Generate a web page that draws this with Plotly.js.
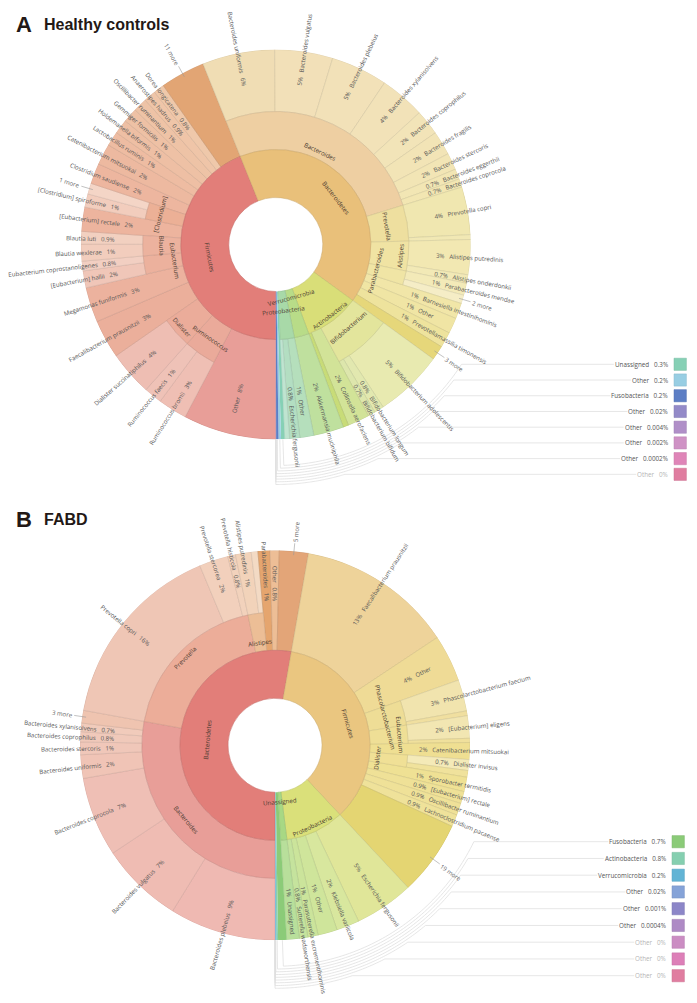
<!DOCTYPE html>
<html><head><meta charset="utf-8">
<script src="https://cdn.plot.ly/plotly-3.0.1.min.js"></script>
<style>html,body{margin:0;padding:0;background:#fff}#chart{width:697px;height:1003px}</style>
</head><body><div id="chart"></div>
<script>
// ---------- Panel A: Healthy controls ----------
const aLeafNames = ['Other','Ruminococcus bromii','Ruminococcus faecis','Dialister succinatiphilus','Faecalibacterium prausnitzii','Megamonas funiformis','[Eubacterium] hallii','Eubacterium coprostanoligenes','Blautia wexlerae','Blautia luti','[Eubacterium] rectale','[Clostridium] spiroforme','1 more','Clostridium saudiense','Catenibacterium mitsuokai','Lactobacillus ruminis','Holdemanella biformis','Gemmiger formicilis','Oscillibacter ruminantium','Anaerostipes hadrus','Dorea longicatena','11 more',
 'Bacteroides uniformis','Bacteroides vulgatus','Bacteroides plebeius','Bacteroides xylanisolvens','Bacteroides coprophilus','Bacteroides fragilis','Bacteroides stercoris','Bacteroides eggerthii','Bacteroides coprocola','Prevotella copri','','Alistipes putredinis','Alistipes onderdonkii','Parabacteroides mendae','2 more','Barnesiella intestinihominis','Other','Prevotellamassilia timonensis','3 more',
 'Bifidobacterium adolescentis','Bifidobacterium longum','Bifidobacterium bifidum','Collinsella aerofaciens','','Akkermansia muciniphila','Other','Escherichia fergusonii',''];
const aLeafShare = [7.7,2.4,1.5,3.7,3.2,2.9,1.4,0.8,1.4,1.05,2.0,1.1,0.9,1.7,1.75,1.2,1.2,1.2,1.15,1.0,0.9,3.7,
 6.0,4.8,4.7,3.75,2.1,2.0,1.4,0.85,0.7,3.95,0.4,2.9,0.7,1.0,0.7,1.3,1.3,1.3,1.2,
 5.7,0.8,0.6,1.8,0.45,2.5,1.15,0.85,0.4];
const aLeafPct = ['8%','3%','1%','4%','3%','3%','2%','0.8%','1%','0.9%','2%','1%','','2%','2%','1%','1%','1%','1%','0.9%','0.8%','',
 '6%','5%','5%','4%','2%','2%','2%','0.7%','0.7%','4%','','3%','0.7%','1%','','1%','1%','1%','',
 '5%','0.8%','0.7%','2%','','2%','1%','0.8%',''];
const aLeafSpansGenusRing = [1,0,0,0,1,1,0,0,0,0,1,0,0,1,1,1,1,1,1,1,1,1,
 0,0,0,0,0,0,0,0,0,0,0,0,0,0,0,1,1,1,1,
 0,0,0,1,1,1,1,1,1];
const aLeafColors = ['#E89E98','#EFBFB4','#EFC2B7','#EEBEB3','#EBAF9B','#ECB29E','#F0C6B8','#F2CFC2','#F2CDBD','#F2D0C0','#EDB49E','#F2CDBD','#F4D5C6','#EDB69F','#EDB9A0','#EEBCA2','#EEBFA4','#EEC1A5','#EEC3A6','#EFC5A8','#EFC8AA','#E2A574',
 '#F0DDB4','#F2E0B8','#F2E1B8','#F2E2B8','#F2E4B8','#F2E4B6','#F2E5B5','#F2E6B4','#F2E6B2','#F0E7B0','#F1E8B4','#F2E8B2','#F2E9B6','#F3EAB8','#F5EDC6','#F1E6A8','#F0E5A4','#EEE39D','#E6D77A',
 '#E8EAB0','#E2E8AF','#DDE6AC','#D2E398','#C8DC78','#BFE09E','#B5DFBC','#B3DEC2','#BFE4D0'];
const aGenusNames = ['Ruminococcus','Dialister','Eubacterium','Blautia','[Clostridium]','Bacteroides','Prevotella','Alistipes','Parabacteroides','Bifidobacterium'];
const aGenusFirstLeaf = [1,3,6,8,11,22,31,33,35,41];
const aGenusLeafCount = [2,1,2,2,2,9,2,2,2,3];
const aGenusColors = ['#EAAA9A','#EBAC9A','#ECB19D','#ECB29E','#ECB096','#EECFA2','#EEDF9F','#F0E3A3','#F0E5A5','#E3E59C'];
const aGenusLabelR = [114,125,102,114,120,103,113,125,103,110];
const aPhylumNames = ['Firmicutes','Bacteroidetes','Actinobacteria','Verrucomicrobia','Proteobacteria'];
const aPhylumLeafCount = [22,19,5,1,3];
const aPhylumColors = ['#E27E79','#E9C07A','#D9DE78','#B8DC88','#A8D9A8'];
const aPhylumLabelR = [67,76,89,55,66];
const aLegendNames = ['Unassigned','Other','Fusobacteria','Other','Other','Other','Other','Other'];
const aLegendShare = [0.3,0.2,0.2,0.02,0.004,0.002,0.0002,0];
const aLegendPct = ['0.3%','0.2%','0.2%','0.02%','0.004%','0.002%','0.0002%','0%'];
const aLegendColors = ['#86D0B5','#98CEE3','#5C7EC5','#938AC8','#B08FC8','#CF92C5','#DF85B8','#E07DA0'];

// ---------- Panel B: FABD ----------
const bLeafNames = ['Bacteroides plebeius','Bacteroides vulgatus','Bacteroides coprocola','Bacteroides uniformis','Bacteroides stercoris','Bacteroides coprophilus','Bacteroides xylanisolvens','3 more','Prevotella copri','Prevotella stercorea','Prevotella histicola','Alistipes putredinis','','Parabacteroides','Other','5 more',
 'Faecalibacterium prausnitzii','Other','Phascolarctobacterium faecium','','[Eubacterium] eligens','','Catenibacterium mitsuokai','Dialister invisus','','Sporobacter termitidis','[Eubacterium] rectale','Oscillibacter ruminantium','Lachnoclostridium pacaense','19 more',
 'Escherichia fergusonii','Klebsiella variicola','Other','Parasutterella excrementihominis','Sutterella wadsworthensis','Unassigned'];
const bLeafShare = [8.8,6.85,6.6,1.95,1.05,0.85,0.7,1.05,15.8,2.4,0.65,1.3,0.55,1.0,0.75,2.4,
 12.9,3.9,2.6,0.4,1.85,0.35,1.4,0.9,0.55,1.2,1.0,1.0,1.0,6.2,
 4.9,1.9,1.6,0.85,0.7,1.05];
const bLeafPct = ['9%','7%','7%','2%','1%','0.8%','0.7%','','16%','2%','0.8%','1%','','1%','0.8%','',
 '13%','4%','3%','','2%','','2%','0.7%','','1%','0.9%','0.9%','0.9%','',
 '5%','2%','1%','1%','0.8%','1%'];
const bLeafSpansGenusRing = [0,0,0,0,0,0,0,0,0,0,0,0,0,1,1,1,
 1,1,0,0,0,0,1,0,0,1,1,1,1,1,
 1,1,1,1,1,1];
const bLeafColors = ['#EFB9B2','#EFBCB3','#EFBFB5','#F0C4B6','#F0C7B9','#F0C9BA','#F1CBBB','#EFC4B0','#EFC6B5','#F2D0BC','#F2D2BC','#F2D3BA','#F3DAC4','#E5A56E','#EDBE96','#E3A578',
 '#EED39A','#EFDB96','#F1E4AE','#F0DFA0','#F2E6B2','#F0E09C','#EFDF92','#F4EAB8','#F0E29C','#EFE194','#EFE197','#EFE198','#EFE29A','#E4D572',
 '#E0E699','#D8E79E','#CFE59B','#CBE49B','#C5E39D','#B8DF9B'];
const bGenusNames = ['Bacteroides','Prevotella','Alistipes','Phascolarctobacterium','Eubacterium','Dialister'];
const bGenusFirstLeaf = [0,8,11,18,20,23];
const bGenusLeafCount = [8,3,2,2,2,2];
const bGenusColors = ['#E89E98','#ECAD99','#ECBE96','#EEDD96','#EFDF96','#F0E096'];
const bGenusLabelR = [116,125,104,114,125,103];
const bPhylumNames = ['Bacteroidetes','Firmicutes','Proteobacteria','Unassigned'];
const bPhylumLeafCount = [16,14,5,1];
const bPhylumColors = ['#E27E79','#EAC680','#DAE07A','#A8D884'];
const bPhylumLabelR = [68,76,89,56];
const bLegendNames = ['Fusobacteria','Actinobacteria','Verrucomicrobia','Other','Other','Other','Other','Other','Other'];
const bLegendShare = [0.7,0.15,0.08,0.02,0.001,0.0004,0,0,0];
const bLegendPct = ['0.7%','0.8%','0.2%','0.02%','0.001%','0.0004%','0%','0%','0%'];
const bLegendColors = ['#8BCB78','#85CFB0','#62B4D5','#85A3D8','#8C86C8','#AE8AC5','#CB8DC3','#DD7FB8','#E07DA0'];

const titles = [['A','Healthy controls'],['B','FABD']];
const ringEdges = [47,95,133,195];          // radial scale of the rings

// ---------- page geometry ----------
const W = 697, H = 1003;
const FONT = 'Open Sans', LEAF_SIZE = 6.1, RING_SIZE = 6.2;
const ctx = document.createElement('canvas').getContext('2d');
const measure = (t, size) => { ctx.font = size + 'px "' + FONT + '"'; return ctx.measureText(t).width; };
const px = x => x / W, py = y => 1 - y / H;
const rad = d => d * Math.PI / 180;

function darken(hex, f) {
  const n = parseInt(hex.slice(1), 16);
  const c = [n >> 16, (n >> 8) & 255, n & 255].map(v => Math.round(v * f));
  return 'rgb(' + c.join(',') + ')';
}

const traces = [], annotations = [], shapes = [];
const layout = {width: W, height: H, margin: {l: 0, r: 0, t: 0, b: 0}, paper_bgcolor: '#fff', showlegend: false,
                annotations, shapes, hovermode: false};

function panel(o) {
  const R = ringEdges[3], r1 = ringEdges[1], r2 = ringEdges[2], r0 = ringEdges[0];
  const total = o.leafShare.concat(o.legendShare).reduce((a, b) => a + b, 0);
  const scale = 360 / total;
  // cumulative angle of every leaf
  const start = []; let acc = 0;
  o.leafShare.forEach(v => { start.push(acc); acc += v * scale; });
  const leafEnd = acc;
  const end = start.map((s, i) => s + o.leafShare[i] * scale);
  const pt = (r, phi) => [o.cx - r * Math.sin(rad(phi)), o.cy + r * Math.cos(rad(phi))];

  const addBars = (arcs, name) => traces.push({
    type: 'barpolar', subplot: o.subplot, name,
    theta: arcs.map(a => (a.a + a.b) / 2), width: arcs.map(a => a.b - a.a),
    base: arcs.map(a => a.r0), r: arcs.map(a => a.r1 - a.r0),
    marker: {color: arcs.map(a => a.c),
      line: {color: arcs.map(a => a.noLine ? a.c : darken(a.c, 0.86)), width: arcs.map(a => a.noLine ? 0 : 0.5)}},
    hoverinfo: 'skip'
  });
  const label = (text, r, phi, rotate, size, color) => {
    const p = pt(r, phi);
    annotations.push({text, x: px(p[0]), y: py(p[1]), xref: 'paper', yref: 'paper', xanchor: 'center', yanchor: 'middle',
      showarrow: false, textangle: rotate, font: {family: FONT, size, color}, borderpad: 0});
  };
  const norm = a => { a = ((a % 360) + 360) % 360; return a > 180 ? a - 360 : a; };
  const tangentAngle = phi => {
    let a = Math.atan2(Math.cos(rad(phi)), -Math.sin(rad(phi))) * 180 / Math.PI + 90;
    a = norm(a); if (a > 90) a -= 180; if (a <= -90) a += 180; return a;
  };

  // leaves
  addBars(o.leafShare.map((v, i) => ({a: start[i], b: end[i], r0: o.leafSpans[i] ? r1 : r2, r1: R, c: o.leafColors[i]})), 'leaves');
  // genera
  addBars(o.genusNames.map((n, g) => {
    const f = o.genusFirst[g], l = f + o.genusCount[g] - 1;
    return {a: start[f], b: end[l], r0: r1, r1: r2, c: o.genusColors[g]};
  }), 'genera');
  // phyla
  let li = 0; const phylumArcs = [];
  o.phylumNames.forEach((n, p) => {
    const f = li, l = li + o.phylumCount[p] - 1; li = l + 1;
    phylumArcs.push({a: start[f], b: end[l], r0: r0, r1: r1, c: o.phylumColors[p]});
  });
  addBars(phylumArcs, 'phyla');
  // the smallest groups run through all rings
  let t = leafEnd; const tiny = [], tinyMid = [];
  o.legendShare.forEach((v, i) => {
    const b = t + v * scale; tinyMid.push((t + b) / 2);
    if (v > 0) tiny.push({a: t, b, r0, r1: R, c: o.legendColors[i], noLine: true});
    t = b;
  });
  addBars(tiny, 'small groups');

  // leaf labels
  o.leafNames.forEach((name, i) => {
    if (!name) return;
    const phi = (start[i] + end[i]) / 2;
    const rightSide = phi > 180;
    const outward = Math.atan2(Math.cos(rad(phi)), -Math.sin(rad(phi))) * 180 / Math.PI;
    const rot = norm(rightSide ? outward : outward + 180);
    const pct = o.leafPct[i];
    if (!pct) {                                  // "n more" wedges
      const w = measure(name, LEAF_SIZE);
      const a = pt(R - 4, phi), b = pt(R + 8, phi);
      shapes.push({type: 'line', xref: 'paper', yref: 'paper', x0: px(a[0]), y0: py(a[1]), x1: px(b[0]), y1: py(b[1]), line: {color: '#999', width: 0.6}});
      label(name, R + 10 + w / 2, phi, rot, LEAF_SIZE, '#666');
      return;
    }
    const text = rightSide ? pct + '\u00a0\u00a0\u00a0' + name : name + '\u00a0\u00a0\u00a0' + pct;
    const w = measure(text, LEAF_SIZE);
    const inner = o.leafSpans[i] ? 144 : 161;
    label(text, inner + w / 2, phi, rot, LEAF_SIZE, '#555');
  });
  // genus and phylum labels
  o.genusNames.forEach((n, g) => {
    const f = o.genusFirst[g], l = f + o.genusCount[g] - 1, phi = (start[f] + end[l]) / 2;
    label(n, o.genusLabelR[g], phi, tangentAngle(phi), RING_SIZE, '#4a3a30');
  });
  phylumArcs.forEach((a, p) => {
    const phi = (a.a + a.b) / 2;
    label(o.phylumNames[p], o.phylumLabelR[p], phi, tangentAngle(phi), RING_SIZE, '#4a3a30');
  });

  // legend rows with leader lines
  const n = o.legendNames.length;
  o.legendNames.forEach((name, i) => {
    const y = o.rowTop + i * o.rowStep;
    const text = name + '\u00a0\u00a0\u00a0' + o.legendPct[i];
    const zero = o.legendShare[i] === 0;
    const w = measure(text, 6.3);
    const r = 221 + (o.arcOuter - 221) * i / (n - 1);
    const phiStart = tinyMid[i];
    const phiEnd = 360 - Math.acos((y - o.cy) / r) * 180 / Math.PI;
    const pts = [pt(R, phiStart)];
    for (let s = 0; s <= 60; s++) pts.push(pt(r, phiStart + (phiEnd - phiStart) * s / 60));
    pts.push([o.textRight - w - 3, y]);
    const path = pts.map((q, k) => (k ? 'L' : 'M') + px(q[0]).toFixed(5) + ',' + py(q[1]).toFixed(5)).join(' ');
    shapes.push({type: 'path', xref: 'paper', yref: 'paper', path, line: {color: '#e0e0e0', width: 0.8}});
    annotations.push({text, x: px(o.textRight), y: py(y), xref: 'paper', yref: 'paper', xanchor: 'right', yanchor: 'middle',
      showarrow: false, font: {family: FONT, size: 6.3, color: zero ? '#b5b5b5' : '#555'}});
    shapes.push({type: 'rect', xref: 'paper', yref: 'paper', x0: px(o.boxLeft), x1: px(o.boxLeft + 12.4), y0: py(y - 6.1), y1: py(y + 6.1),
      fillcolor: o.legendColors[i], line: {color: darken(o.legendColors[i], 0.9), width: 0.5}});
  });

  // panel titles
  annotations.push({text: '<b>' + o.title[0] + '</b>', x: px(14), y: py(o.titleY), xref: 'paper', yref: 'paper', xanchor: 'left', yanchor: 'middle', showarrow: false,
    font: {family: 'Liberation Sans', size: 22, color: '#231815'}});
  annotations.push({text: '<b>' + o.title[1] + '</b>', x: px(41.5), y: py(o.titleY), xref: 'paper', yref: 'paper', xanchor: 'left', yanchor: 'middle', showarrow: false,
    font: {family: 'Liberation Sans', size: 16, color: '#231815'}});

  // polar subplot
  layout[o.subplot] = {
    domain: {x: [px(o.cx - R), px(o.cx + R)], y: [py(o.cy + R), py(o.cy - R)]},
    bgcolor: 'rgba(0,0,0,0)', barmode: 'overlay',
    radialaxis: {visible: false, range: [0, R]},
    angularaxis: {visible: false, rotation: -90, direction: 'clockwise', thetaunit: 'degrees'}
  };
}

panel({subplot: 'polar', cx: 275.8, cy: 244.5, title: titles[0], titleY: 24.5,
  leafNames: aLeafNames, leafShare: aLeafShare, leafPct: aLeafPct, leafSpans: aLeafSpansGenusRing, leafColors: aLeafColors,
  genusNames: aGenusNames, genusFirst: aGenusFirstLeaf, genusCount: aGenusLeafCount, genusColors: aGenusColors, genusLabelR: aGenusLabelR,
  phylumNames: aPhylumNames, phylumCount: aPhylumLeafCount, phylumColors: aPhylumColors, phylumLabelR: aPhylumLabelR,
  legendNames: aLegendNames, legendShare: aLegendShare, legendPct: aLegendPct, legendColors: aLegendColors,
  rowTop: 364.3, rowStep: 15.72, textRight: 670, boxLeft: 674, arcOuter: 240});
panel({subplot: 'polar2', cx: 275, cy: 745.3, title: titles[1], titleY: 519.5,
  leafNames: bLeafNames, leafShare: bLeafShare, leafPct: bLeafPct, leafSpans: bLeafSpansGenusRing, leafColors: bLeafColors,
  genusNames: bGenusNames, genusFirst: bGenusFirstLeaf, genusCount: bGenusLeafCount, genusColors: bGenusColors, genusLabelR: bGenusLabelR,
  phylumNames: bPhylumNames, phylumCount: bPhylumLeafCount, phylumColors: bPhylumColors, phylumLabelR: bPhylumLabelR,
  legendNames: bLegendNames, legendShare: bLegendShare, legendPct: bLegendPct, legendColors: bLegendColors,
  rowTop: 841.7, rowStep: 16.75, textRight: 668, boxLeft: 672, arcOuter: 243});

Plotly.newPlot('chart', traces, layout, {staticPlot: true, displayModeBar: false});
</script></body></html>
